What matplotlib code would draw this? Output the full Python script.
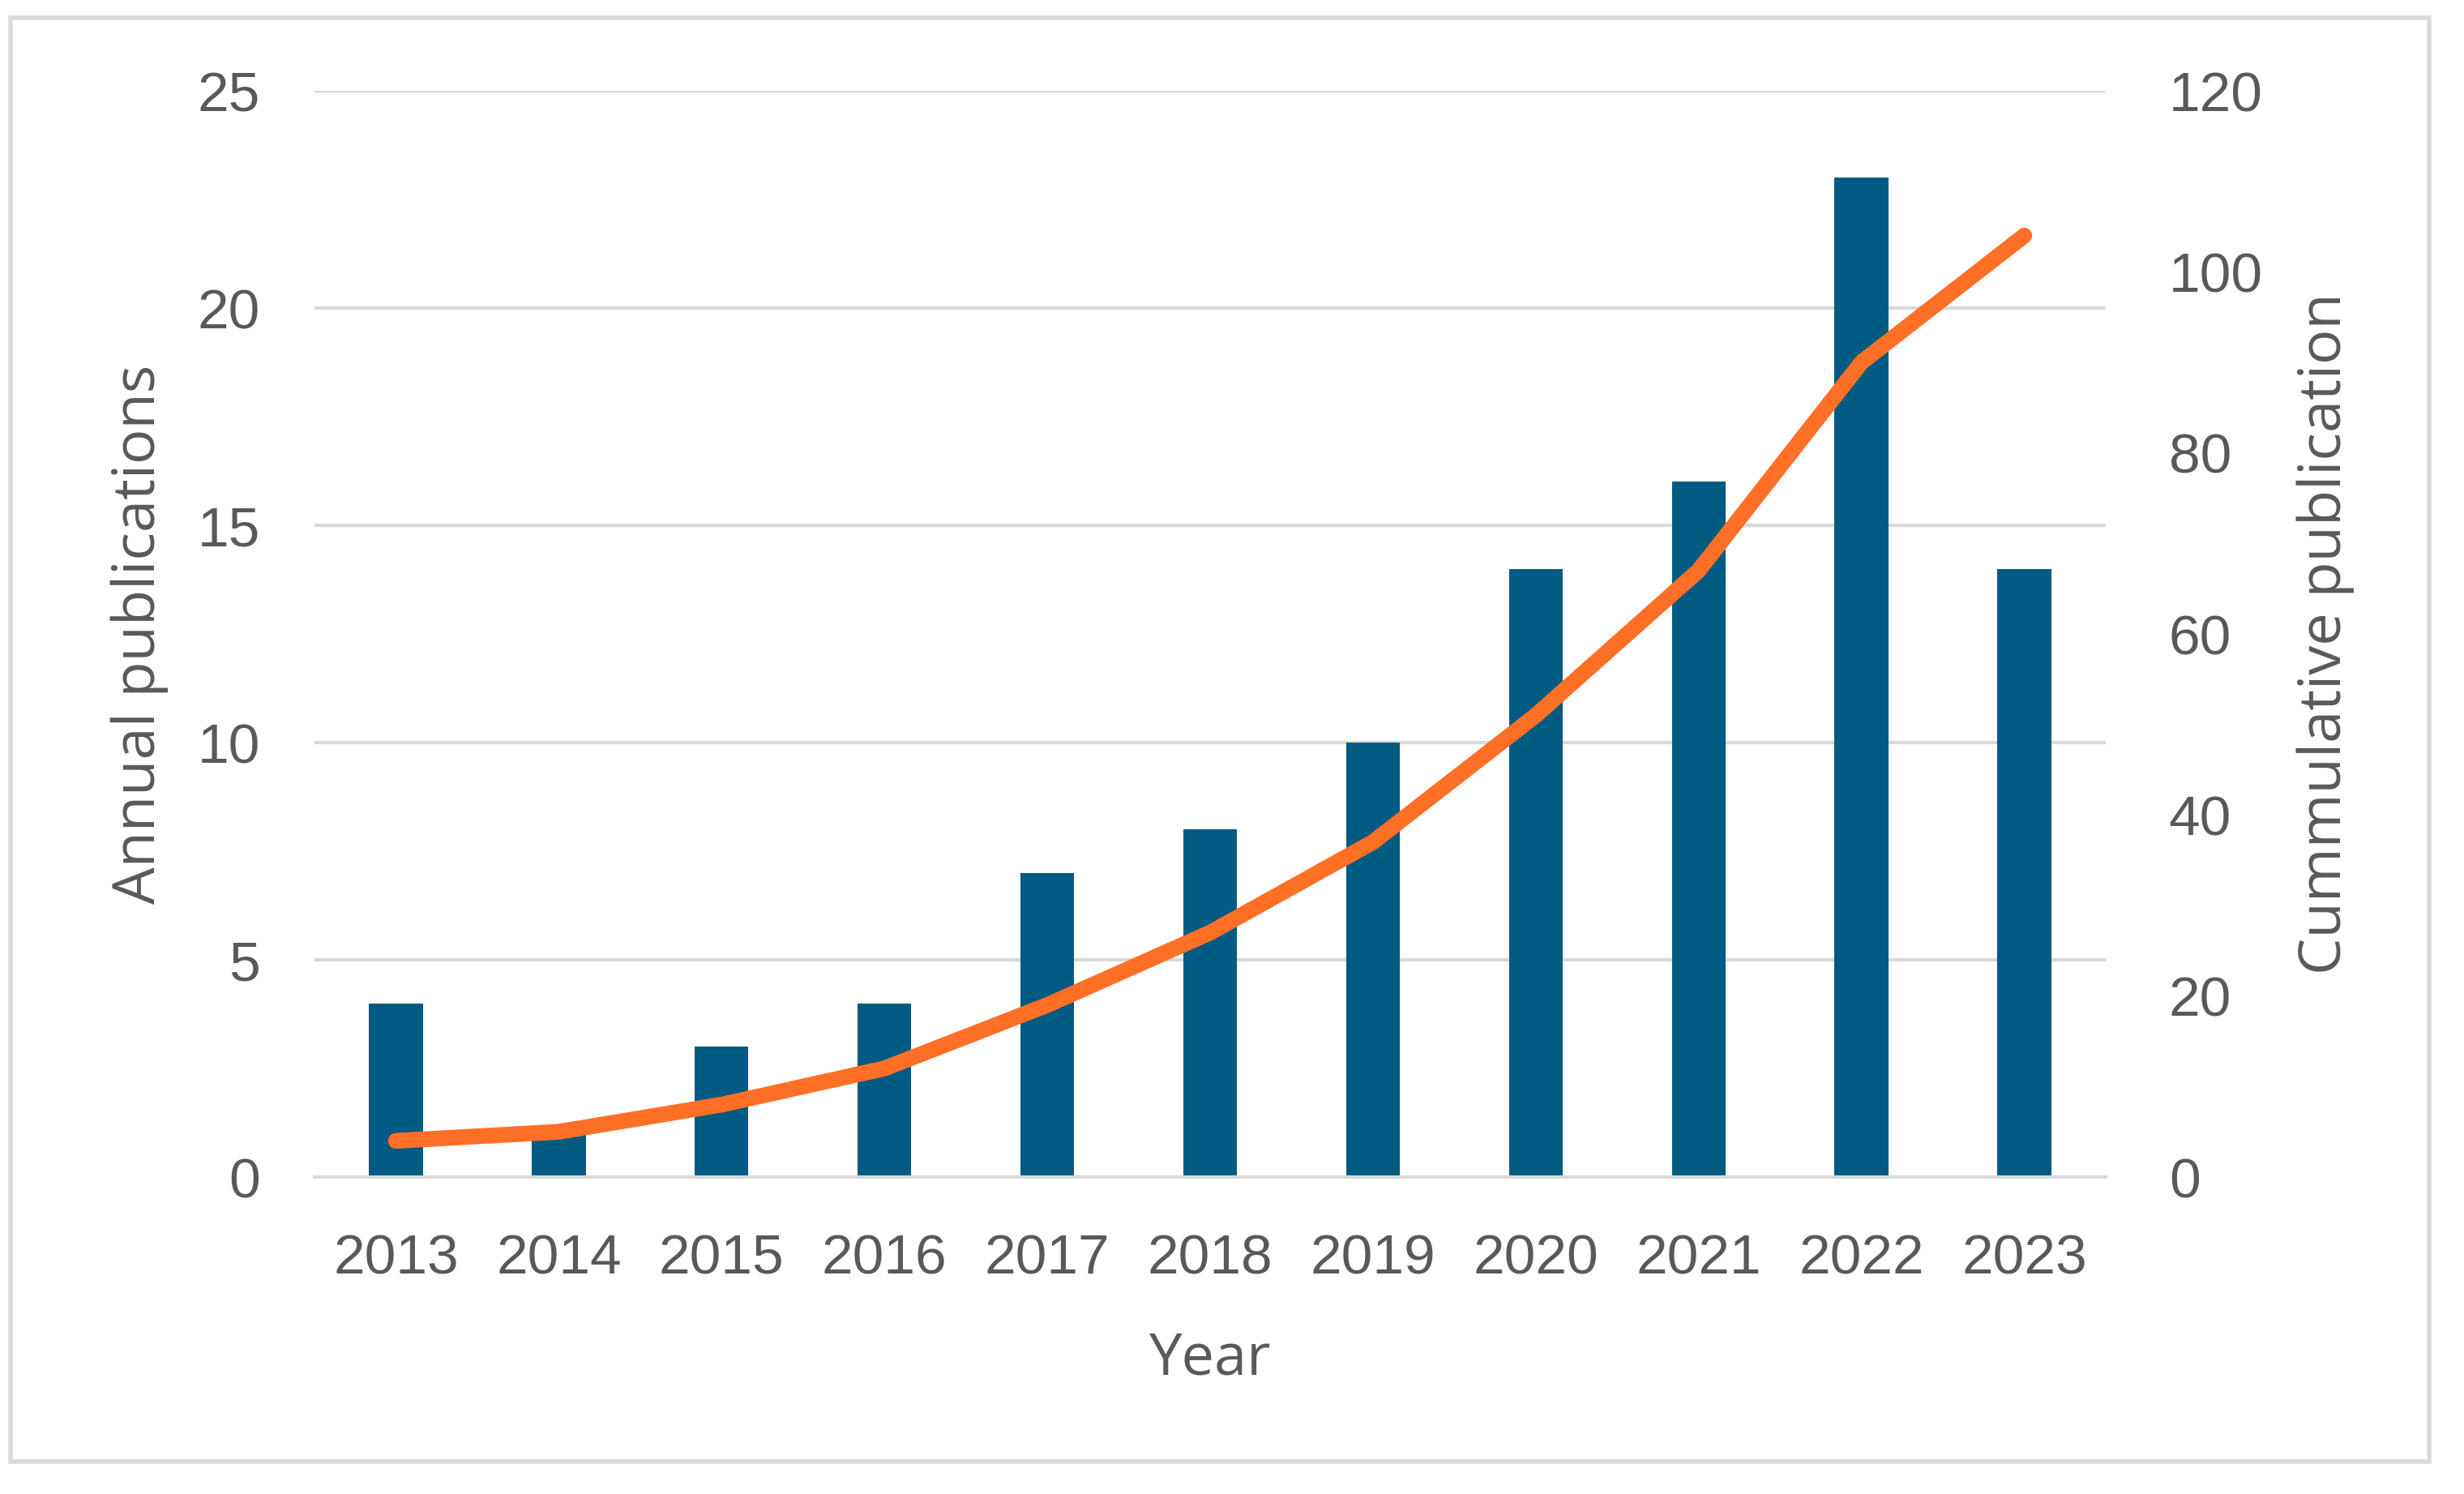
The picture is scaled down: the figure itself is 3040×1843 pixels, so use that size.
import matplotlib
matplotlib.use("Agg")
import matplotlib.pyplot as plt
from matplotlib.patches import Rectangle

years = ["2013", "2014", "2015", "2016", "2017", "2018", "2019", "2020", "2021", "2022", "2023"]
annual = [4, 1, 3, 4, 7, 8, 10, 14, 16, 23, 14]
cumulative = [4, 5, 8, 12, 19, 27, 37, 51, 67, 90, 104]
left_ticks = [0, 5, 10, 15, 20, 25]
right_ticks = [0, 20, 40, 60, 80, 100, 120]

DPI = 100
W, H = 3040, 1843
fig = plt.figure(figsize=(W / DPI, H / DPI), dpi=DPI)
fig.patch.set_facecolor("white")

# outer frame
fig.add_artist(Rectangle((13 / W, 1 - 1803 / H), (2997 - 13) / W, (1803 - 22) / H,
                         transform=fig.transFigure, fill=False,
                         edgecolor="#D9D9D9", linewidth=4))

ax_l, ax_r, ax_b, ax_t = 388, 2598, 1452, 112
ax = fig.add_axes([ax_l / W, 1 - ax_b / H, (ax_r - ax_l) / W, (ax_b - ax_t) / H])
ax2 = ax.twinx()

tick_font = "Liberation Sans"
label_font = "Open Sans"
tcol = "#595959"

x = list(range(len(years)))
ax.bar(x, annual, width=0.33, color="#005B82", zorder=2)
ax.set_xlim(-0.5, len(years) - 0.5)
ax.set_ylim(0, 25)
ax.set_yticks(left_ticks)
ax.set_xticks(x)
ax.set_xticklabels(years)
ax.yaxis.grid(True, color="#D9D9D9", linewidth=3, zorder=0)
ax.set_axisbelow(True)
for s in ["top", "right", "left"]:
    ax.spines[s].set_visible(False)
ax.spines["bottom"].set_color("#D9D9D9")
ax.spines["bottom"].set_linewidth(3)
ax.tick_params(axis="both", length=0, labelsize=50, labelcolor=tcol)
ax.tick_params(axis="x", pad=50)
ax.tick_params(axis="y", pad=48)
for lab in ax.get_xticklabels() + ax.get_yticklabels():
    lab.set_fontfamily(tick_font)

ax2.plot(x, cumulative, color="#FF6F26", linewidth=14, solid_capstyle="round",
         solid_joinstyle="round", zorder=3)
ax2.set_ylim(0, 120)
ax2.set_yticks(right_ticks)
for s in ["top", "right", "left", "bottom"]:
    ax2.spines[s].set_visible(False)
ax2.tick_params(axis="y", length=0, labelsize=50, labelcolor=tcol, pad=56)
for lab in ax2.get_yticklabels():
    lab.set_fontfamily(tick_font)

ax.set_xlabel("Year", fontsize=52, color=tcol, family=label_font, labelpad=40)
ax.set_ylabel("Annual publications", fontsize=52, color=tcol, family=label_font, labelpad=26)
ax2.set_ylabel("Cummulative publication", fontsize=52, color=tcol, family=label_font, labelpad=30)

fig.savefig("out.png", dpi=DPI, facecolor="white")
